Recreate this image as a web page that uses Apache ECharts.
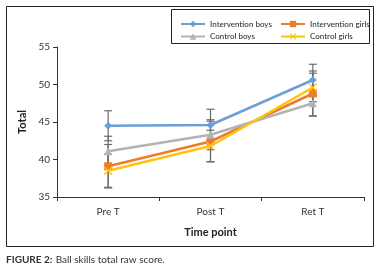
<!DOCTYPE html>
<html>
<head>
	<meta charset="UTF-8" />
	<title></title>
	<style type="text/css">
		* { margin: 0; padding: 0; }
		body { background: #fff; }
		#main { width: 383px; height: 273px; }
	</style>
</head>
<body>
	<div id="main"></div>
</body>
<script src="https://cdn.jsdelivr.net/npm/echarts@6/dist/echarts.min.js"></script>
<script type="text/javascript">
	// 数据
	var categories = ['Pre T', 'Post T', 'Ret T']
	var seriesNames = ['Intervention boys', 'Intervention girls', 'Control boys', 'Control girls']
	var interventionBoys = [44.5, 44.6, 50.6]
	var interventionGirls = [39.1, 42.4, 48.8]
	var controlBoys = [41.1, 43.3, 47.5]
	var controlGirls = [38.5, 41.8, 49.6]
	// 误差 (±)
	var errInterventionBoys = [2.0, 2.1, 2.1]
	var errInterventionGirls = [2.9, 2.7, 3.0]
	var errControlBoys = [2.0, 2.0, 1.7]
	var errControlGirls = [2.2, 2.1, 1.9]

	var font = 'Lato'
	var colors = ['#6c9fd6', '#ec7e2a', '#b3b3b3', '#ffc20e']
	var symbols = ['diamond', 'rect', 'triangle',
		'path://M0,1L1,0L5,4L9,0L10,1L6,5L10,9L9,10L5,6L1,10L0,9L4,5Z']
	var symbolSizes = [8, 8, 8, 9]
	var values = [interventionBoys, interventionGirls, controlBoys, controlGirls]
	var errors = [errInterventionBoys, errInterventionGirls, errControlBoys, errControlGirls]

	var myChart = echarts.init(document.getElementById('main'))

	var errData = []
	values.forEach(function (v, s) {
		v.forEach(function (y, i) {
			errData.push([i, y - errors[s][i], y + errors[s][i]])
		})
	})

	var lineSeries = values.map(function (v, s) {
		return {
			name: seriesNames[s],
			type: 'line',
			data: v,
			symbol: symbols[s],
			symbolSize: symbolSizes[s],
			showAllSymbol: true,
			z: 3 + s,
			itemStyle: { color: colors[s] },
			lineStyle: { width: 2.5, color: colors[s] },
			animation: false
		}
	})

	var legendText = { fontFamily: font, fontSize: 8, fontWeight: 500, color: '#333' }

	var option = {
		animation: false,
		graphic: [{
			type: 'rect',
			shape: { x: 6.5, y: 6.5, width: 367, height: 240 },
			style: { fill: 'none', stroke: '#222', lineWidth: 1 }
		}, {
			type: 'rect',
			shape: { x: 171.5, y: 9.5, width: 198, height: 34 },
			style: { fill: 'none', stroke: '#222', lineWidth: 1 }
		}, {
			type: 'text',
			left: 6, top: 254,
			style: {
				rich: {
					b: { fontWeight: 'bold', fontSize: 10, fontFamily: font, fill: '#333' },
					n: { fontSize: 10, fontFamily: font, fill: '#333' }
				},
				text: '{b|FIGURE 2:} {n|Ball skills total raw score.}'
			}
		}],
		legend: [{
			data: [seriesNames[0], seriesNames[2]],
			orient: 'vertical',
			left: 175, top: 15,
			itemWidth: 24, itemHeight: 8, itemGap: 4.5,
			textStyle: legendText
		}, {
			data: [seriesNames[1], seriesNames[3]],
			orient: 'vertical',
			left: 275, top: 15,
			itemWidth: 24, itemHeight: 8, itemGap: 4.5,
			textStyle: legendText
		}],
		grid: { left: 57, right: 19, top: 47, bottom: 76 },
		xAxis: {
			type: 'category',
			data: categories,
			name: 'Time point',
			nameLocation: 'middle',
			nameGap: 30,
			nameTextStyle: { fontFamily: font, fontWeight: 'bold', fontSize: 11, color: '#222' },
			axisLine: { lineStyle: { color: '#333', width: 1 } },
			axisTick: { show: true, length: 4, lineStyle: { color: '#333' } },
			axisLabel: { fontFamily: font, fontSize: 10, color: '#333', margin: 10 }
		},
		yAxis: {
			type: 'value',
			min: 35, max: 55, interval: 5,
			name: 'Total',
			nameLocation: 'middle',
			nameGap: 29,
			nameRotate: 90,
			nameTextStyle: { fontFamily: font, fontWeight: 'bold', fontSize: 11, color: '#222' },
			splitLine: { show: false },
			axisLine: { show: true, lineStyle: { color: '#333', width: 1 } },
			axisTick: { show: true, length: 4, lineStyle: { color: '#333' } },
			axisLabel: { fontFamily: font, fontSize: 10, color: '#333', margin: 7 }
		},
		series: [{
			type: 'custom',
			z: 2,
			silent: true,
			renderItem: function (params, api) {
				var x = api.value(0)
				var lo = api.coord([x, api.value(1)])
				var hi = api.coord([x, api.value(2)])
				var w = 4
				var st = { stroke: '#6b6b6b', lineWidth: 1.2 }
				return {
					type: 'group',
					children: [
						{ type: 'line', shape: { x1: hi[0], y1: hi[1], x2: lo[0], y2: lo[1] }, style: st },
						{ type: 'line', shape: { x1: hi[0] - w, y1: hi[1], x2: hi[0] + w, y2: hi[1] }, style: st },
						{ type: 'line', shape: { x1: lo[0] - w, y1: lo[1], x2: lo[0] + w, y2: lo[1] }, style: st }
					]
				}
			},
			data: errData
		}].concat(lineSeries)
	}
	myChart.setOption(option)
</script>
</html>
